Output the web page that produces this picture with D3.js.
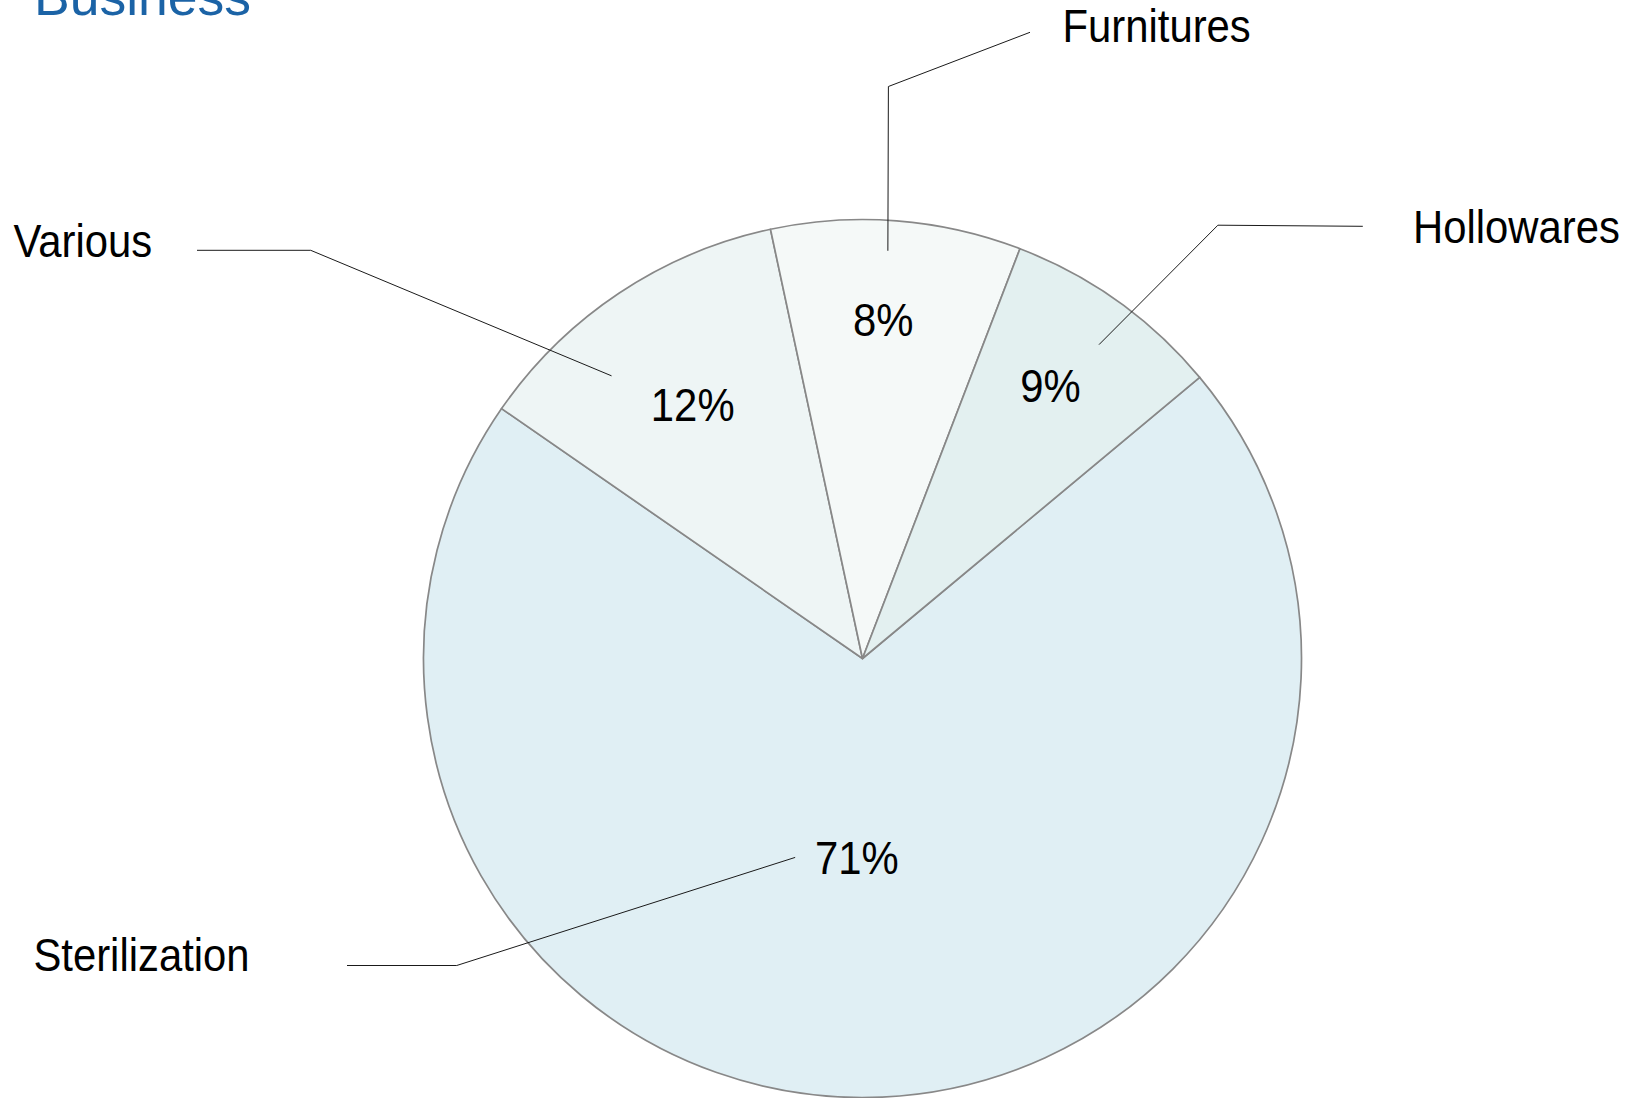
<!DOCTYPE html>
<html>
<head>
<meta charset="utf-8">
<script src="https://cdn.jsdelivr.net/npm/d3@7"></script>
<style>
  html, body { margin: 0; padding: 0; background: #fff; }
  svg { display: block; }
  text { font-family: "Liberation Sans", Arial, sans-serif; }
</style>
</head>
<body>
<svg id="chart" width="1635" height="1098"></svg>
<script>
// ---- data ----
const title = "Business";
const categories = ["Sterilization", "Various", "Furnitures", "Hollowares"];
const values = [70.7, 12.0, 9.2, 8.1];
const pctLabels = ["71%", "12%", "8%", "9%"];
const colors = ["#e0eff4", "#eef5f5", "#f5f9f8", "#e3f0f0"];

// ---- layout (positions / styles) ----
const W = 1635, H = 1098;
const cx = 862.5, cy = 658.5, R = 439;
const startDeg = 50.18;
const rad = d => d * Math.PI / 180;
const polar = (deg, r) => [cx + r * Math.sin(rad(deg)), cy - r * Math.cos(rad(deg))];
// percent label polar placement (deg clockwise from top, radius)
const pctPos = [[181.6, 199], [-33.7, 306], [3.5, 340], [34.5, 332]];
// outer category labels and leader lines
const outer = [
  { x: 33.4,  y: 971,   pts: [[347, 965.5], [456.7, 965.5]], end: [198.7, 210] },
  { x: 13.5,  y: 256.5, pts: [[197, 250.3], [310.7, 250.3]], end: [-41.6, 378] },
  { x: 1062.5, y: 41.7, pts: [[1030, 32.3], [888.4, 86.5]], end: [3.56, 408.5] },
  { x: 1413,  y: 243,   pts: [[1362.8, 226.3], [1217.9, 225.2]], end: [37, 393] }
];
const fontSize = 47, condense = 0.89;

const svg = d3.select("#chart");

// title (cut off at the top edge, as in the reference)
svg.append("text")
  .attr("x", 34).attr("y", 15)
  .attr("font-size", 53.5)
  .attr("fill", "#1b63a6")
  .text(title);

const pie = d3.pie().sort(null).value(d => d)
  .startAngle(rad(startDeg)).endAngle(rad(startDeg) + 2 * Math.PI);
const arc = d3.arc().innerRadius(0).outerRadius(R);
const arcs = pie(values);

const g = svg.append("g").attr("transform", `translate(${cx},${cy})`);
g.selectAll("path.slice").data(arcs).enter().append("path")
  .attr("class", "slice")
  .attr("d", arc)
  .attr("fill", (d, i) => colors[i])
  .attr("stroke", "#888888")
  .attr("stroke-width", 1.7)
  .attr("stroke-linejoin", "round");

// leader lines
const line = d3.line();
svg.selectAll("path.leader").data(outer).enter().append("path")
  .attr("class", "leader")
  .attr("d", d => line([...d.pts, polar(d.end[0], d.end[1])]))
  .attr("fill", "none")
  .attr("stroke", "#1a1a1a")
  .attr("stroke-width", 1);

// percent labels
arcs.forEach((d, i) => {
  const [x, y] = polar(pctPos[i][0], pctPos[i][1]);
  svg.append("g").attr("transform", `translate(${x},${y}) scale(${condense},1)`)
    .append("text")
    .attr("text-anchor", "middle")
    .attr("dy", "0.36em")
    .attr("font-size", fontSize)
    .attr("fill", "#000")
    .text(pctLabels[i]);
});

// category labels
outer.forEach((o, i) => {
  svg.append("g").attr("transform", `translate(${o.x},${o.y}) scale(${condense},1)`)
    .append("text")
    .attr("text-anchor", "start")
    .attr("font-size", fontSize)
    .attr("fill", "#000")
    .text(categories[i]);
});
</script>
</body>
</html>
